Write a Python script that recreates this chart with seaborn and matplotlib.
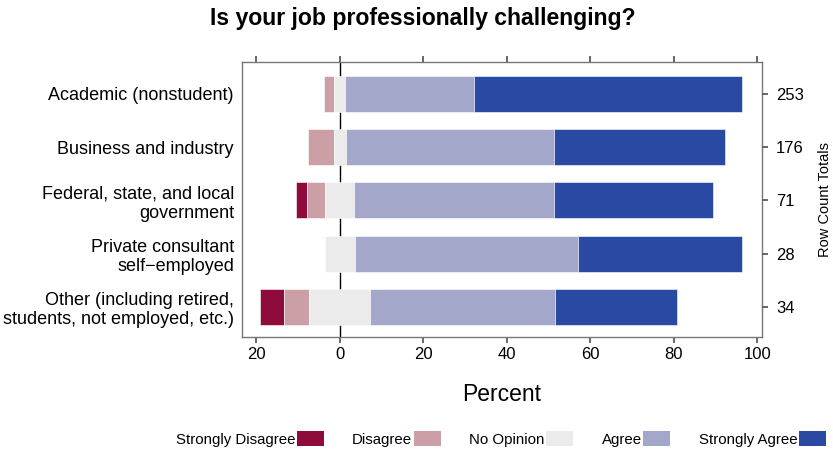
import matplotlib
matplotlib.use("Agg")
import matplotlib.pyplot as plt
import seaborn as sns
import numpy as np
import pandas as pd
from matplotlib.patches import Patch

categories = ["Academic (nonstudent)",
              "Business and industry",
              "Federal, state, and local\ngovernment",
              "Private consultant\nself\u2212employed",
              "Other (including retired,\nstudents, not employed, etc.)"]
levels = ["Strongly Disagree", "Disagree", "No Opinion", "Agree", "Strongly Agree"]
strongly_disagree = [0, 0, 2, 0, 2]
disagree = [6, 11, 3, 0, 2]
no_opinion = [7, 5, 5, 2, 5]
agree = [78, 88, 34, 15, 15]
strongly_agree = [162, 72, 27, 11, 10]
colors = ["#8E0B3B", "#CC9EA5", "#EBEBEB", "#A3A8CB", "#2A49A2"]

sns.set_theme(style="white")
plt.rcParams["font.family"] = ["Liberation Sans", "DejaVu Sans"]
plt.rcParams.update({"text.color": "black", "axes.labelcolor": "black",
                     "xtick.color": "black", "ytick.color": "black"})

counts = np.array([strongly_disagree, disagree, no_opinion, agree, strongly_agree], dtype=float)
totals = counts.sum(axis=0)
pct = counts / totals * 100

sd, d, n, a, sa = pct
lefts = [-(n / 2 + d + sd), -(n / 2 + d), -n / 2, n / 2, n / 2 + a]

fig = plt.figure(figsize=(8.33, 4.49), dpi=100)
ax = fig.add_axes([0.290, 0.249, 0.625, 0.613])

ax.axvline(0, color="black", lw=1.0, zorder=0)
for i, lev in enumerate(levels):
    df = pd.DataFrame({"cat": categories, "val": pct[i]})
    sns.barplot(data=df, x="val", y="cat", order=categories, orient="h",
                color=colors[i], width=0.68, left=lefts[i], ax=ax,
                edgecolor="white", linewidth=0.4, saturation=1, zorder=2)

ax.set_xlim(-23.5, 101.2)
ax.set_ylim(4.57, -0.6)
ax.set_xticks([-20, 0, 20, 40, 60, 80, 100])
ax.set_xticklabels(["20", "0", "20", "40", "60", "80", "100"])
ax.set_xlabel("Percent", fontsize=16.5, labelpad=15)
ax.set_ylabel("")
ax.tick_params(axis="x", which="both", bottom=True, top=True, direction="out",
               length=4, color="#555555", labelsize=12, pad=3)
ax.tick_params(axis="y", which="both", left=False, right=False, length=0,
               labelsize=13, pad=5.5)
for lab in ax.get_yticklabels():
    lab.set_horizontalalignment("right")
    lab.set_multialignment("right")
for sp in ax.spines.values():
    sp.set_color("#777777")
    sp.set_linewidth(1.0)

ax2 = ax.twinx()
ax2.set_ylim(ax.get_ylim())
ax2.set_yticks(range(len(categories)))
ax2.set_yticklabels([str(int(t)) for t in totals])
ax2.tick_params(axis="y", left=False, right=True, direction="out", length=4,
                color="#555555", labelsize=12, pad=6)
ax2.set_ylabel("Row Count Totals", fontsize=10.5, labelpad=10)
for sp in ax2.spines.values():
    sp.set_visible(False)

fig.suptitle("Is your job professionally challenging?", fontsize=16.6,
             fontweight="bold", x=0.508, y=0.985)

handles = [Patch(facecolor=c, edgecolor="none") for c in colors]
fig.legend(handles, levels, loc="lower center", bbox_to_anchor=(0.601, -0.025),
           ncol=5, frameon=False, markerfirst=False, fontsize=10.8,
           handlelength=1.8, handleheight=1.1, handletextpad=0.1,
           columnspacing=1.9)

fig.savefig("out.png", dpi=100)
